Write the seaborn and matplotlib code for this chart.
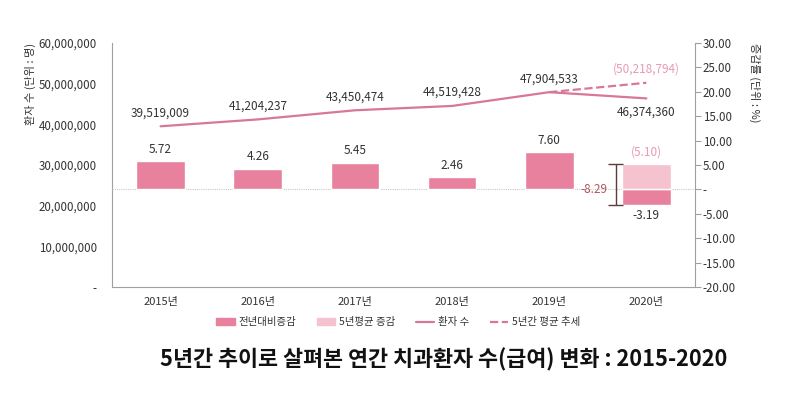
import numpy as np
import matplotlib
matplotlib.use('Agg')
import matplotlib.pyplot as plt
from matplotlib.patches import Patch
from matplotlib.lines import Line2D
import seaborn as sns

sns.set_style('white')
plt.rcParams['font.family'] = ['Noto Sans CJK KR', 'DejaVu Sans']

# data
years = ['2015년', '2016년', '2017년', '2018년', '2019년', '2020년']
patients = [39519009, 41204237, 43450474, 44519428, 47904533, 46374360]
yoy_change = [5.72, 4.26, 5.45, 2.46, 7.60, -3.19]
trend_years = ['2019년', '2020년']
trend_patients = [47904533, 50218794]
avg_change_2020 = 5.10
legend_labels = ['전년대비증감', '5년평균 증감', '환자 수', '5년간 평균 추세']

dark_pink = '#E8819D'
light_pink = '#F5C3CF'
line_c = '#D8779A'
text_c = '#333333'
soft_c = '#E79AB2'
spine_c = '#a0a0a0'

fig = plt.figure(figsize=(7.9, 3.94), dpi=100)
ax = fig.add_axes([0.1418, 0.2716, 0.7379, 0.6193])
ax2 = ax.twinx()

# bars (right axis, %)
sns.barplot(x=years, y=yoy_change, order=years, color=dark_pink, saturation=1,
            width=0.5, ax=ax2)
sns.barplot(x=[years[-1]], y=[avg_change_2020], order=years, color=light_pink,
            saturation=1, width=0.5, ax=ax2)
ax2.axhline(0, color='#c8c8c8', lw=0.8, ls=(0, (1, 1)), zorder=0)

# patient count line (left axis)
xpos = np.arange(len(years))
sns.lineplot(x=xpos, y=patients, color=line_c, lw=1.6, ax=ax)
trend_x = [years.index(y) for y in trend_years]
sns.lineplot(x=trend_x, y=trend_patients, color=line_c, lw=1.6, linestyle='--', ax=ax)

# line labels
for i, v in enumerate(patients):
    if i == len(patients) - 1:
        ax.annotate(f'{v:,}', (i, v), xytext=(0, -5), textcoords='offset points',
                    ha='center', va='top', fontsize=8.5, color=text_c)
    else:
        ax.annotate(f'{v:,}', (i, v), xytext=(0, 5), textcoords='offset points',
                    ha='center', va='bottom', fontsize=8.5, color=text_c)
ax.annotate(f'({trend_patients[-1]:,})', (trend_x[-1], trend_patients[-1]), xytext=(0, 5),
            textcoords='offset points', ha='center', va='bottom', fontsize=8.5, color=soft_c)

# bar labels
for i, v in enumerate(yoy_change):
    if v >= 0:
        ax2.annotate(f'{v:.2f}', (i, v), xytext=(0, 4), textcoords='offset points',
                     ha='center', va='bottom', fontsize=8.5, color=text_c)
    else:
        ax2.annotate(f'{v:.2f}', (i, v), xytext=(0, -3), textcoords='offset points',
                     ha='center', va='top', fontsize=8.5, color=text_c)
ax2.annotate(f'({avg_change_2020:.2f})', (len(years) - 1, avg_change_2020), xytext=(0, 4),
             textcoords='offset points', ha='center', va='bottom', fontsize=8.5, color=soft_c)

# bracket showing the gap between actual and 5-year average
bx = len(years) - 1 - 0.31
lo, hi = yoy_change[-1], avg_change_2020
ax2.vlines(bx, lo, hi, color='#5b3b3b', lw=1)
ax2.hlines([lo, hi], bx - 0.08, bx + 0.07, color='#5b3b3b', lw=1)
ax2.text(bx - 0.09, 0, f'{lo - hi:.2f}', ha='right', va='center', fontsize=8.5, color='#B0565E')

# axes
ax.set_ylim(0, 60e6)
ax2.set_ylim(-20, 30)
ax.set_yticks(np.arange(0, 60e6 + 1, 10e6))
ax2.set_yticks(np.arange(-20, 31, 5))
ax.yaxis.set_major_formatter(lambda v, _: '-' if v == 0 else f'{v:,.0f}')
ax2.yaxis.set_major_formatter(lambda v, _: '-' if v == 0 else f'{v:.2f}')
ax.set_xticks(xpos)
ax.set_xticklabels(years)
ax.set_xlim(-0.5, len(years) - 0.5)
ax.tick_params(axis='x', length=0, pad=7, labelsize=8, labelcolor=text_c)
ax.tick_params(axis='y', length=0, pad=11, labelsize=8.3, labelcolor=text_c)
ax2.tick_params(axis='y', length=4, width=0.8, color=spine_c, direction='out', pad=1.5,
                labelsize=8.3, labelcolor=text_c)
ax.set_xlabel('')
ax.set_ylabel('')
ax2.set_xlabel('')
ax2.set_ylabel('')

for s in ['top', 'right']:
    ax.spines[s].set_visible(False)
for s in ['top', 'left', 'bottom']:
    ax2.spines[s].set_visible(False)
for a, s in [(ax, 'left'), (ax, 'bottom'), (ax2, 'right')]:
    a.spines[s].set_color(spine_c)
    a.spines[s].set_linewidth(0.8)

fig.text(30 / 790, 1 - 43 / 394, '환자 수 (단위 : 명)', rotation=90, ha='center', va='top',
         fontsize=8, color=text_c)
fig.text(755 / 790, 1 - 43 / 394, '증감률 (단위 : %)', rotation=-90, ha='center', va='top',
         fontsize=8, color=text_c)

handles = [Patch(color=dark_pink), Patch(color=light_pink),
           Line2D([], [], color=line_c, lw=1.6),
           Line2D([], [], color=line_c, lw=1.6, ls='--')]
fig.legend(handles, legend_labels, loc='center', bbox_to_anchor=(398 / 790, 1 - 322 / 394),
           ncol=4, frameon=False, fontsize=7.5, handlelength=1.8, handleheight=0.6,
           handletextpad=0.3, columnspacing=2.0, labelcolor=text_c)

fig.text(444 / 790, 1 - 360 / 394, '5년간 추이로 살펴본 연간 치과환자 수(급여) 변화 : 2015-2020',
         ha='center', va='center', fontsize=15.7, fontweight='bold', color='#111111')

fig.savefig('out.png', dpi=100)
